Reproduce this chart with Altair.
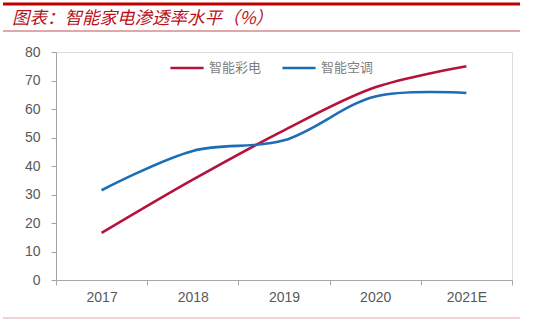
import altair as alt
import pandas as pd

years = ["2017", "2018", "2019", "2020", "2021E"]
tv = [16.5, 35.2, 52.5, 67.6, 75.0]
ac = [31.5, 45.3, 49.0, 64.4, 65.6]
series_names = ["智能彩电", "智能空调"]
colors = ["#B5123C", "#1B6EB5"]
title_text = "图表：智能家电渗透率水平（%）"

rows = []
for name, vals in zip(series_names, [tv, ac]):
    for y, v in zip(years, vals):
        rows.append({"year": y, "value": v, "series": name})
df = pd.DataFrame(rows)

W, H = 456, 228

lines = alt.Chart(df).mark_line(interpolate="catmull-rom", strokeWidth=2.6).encode(
    x=alt.X("year:N", sort=years, title=None,
            scale=alt.Scale(paddingInner=0, paddingOuter=0),
            axis=alt.Axis(labelAngle=0, tickBand="extent", domainColor="#A6A6A6",
                          tickColor="#A6A6A6", tickSize=5, labelColor="#595959",
                          labelFont="Liberation Sans", labelFontSize=14, labelPadding=5,
                          grid=False)),
    y=alt.Y("value:Q", title=None,
            scale=alt.Scale(domain=[0, 80], nice=False),
            axis=alt.Axis(values=list(range(0, 81, 10)), domainColor="#A6A6A6",
                          tickColor="#A6A6A6", tickSize=5, labelColor="#595959",
                          labelFont="Liberation Sans", labelFontSize=14, labelPadding=11,
                          grid=False)),
    color=alt.Color("series:N",
                    scale=alt.Scale(domain=series_names, range=colors),
                    legend=alt.Legend(title=None, orient="none", direction="horizontal",
                                      legendX=113, legendY=-2,
                                      symbolType="stroke", symbolSize=1100,
                                      symbolStrokeWidth=2.6, labelFont="Noto Sans CJK SC",
                                      labelFontSize=13, labelColor="#7F7F7F",
                                      labelOffset=4, columnPadding=15)),
)

title_df = pd.DataFrame({"t": [title_text]})
title = alt.Chart(title_df).mark_text(
    align="left", baseline="middle", font="Noto Sans CJK SC", fontSize=17.5,
    fontStyle="italic", fontWeight="normal", color="#B8121B"
).encode(text="t:N", x=alt.value(-44), y=alt.value(-33))

top_rule = alt.Chart(title_df).mark_rule(color="#C00000", strokeWidth=3).encode(
    x=alt.value(-53), x2=alt.value(464), y=alt.value(-48))
mid_rule = alt.Chart(title_df).mark_rule(color="#C0504D", strokeWidth=1).encode(
    x=alt.value(-53), x2=alt.value(464), y=alt.value(-21))
bot_rule = alt.Chart(title_df).mark_rule(color="#E6A8A8", strokeWidth=1).encode(
    x=alt.value(-53), x2=alt.value(464), y=alt.value(266))

chart = alt.layer(top_rule, mid_rule, bot_rule, title, lines).properties(
    width=W, height=H,
    autosize=alt.AutoSizeParams(type="none"),
    padding={"left": 56, "top": 52, "right": 32, "bottom": 43},
).configure_view(stroke=None).configure(background="white")

chart.save("out.html", embed_options={"renderer": "svg", "actions": False})
